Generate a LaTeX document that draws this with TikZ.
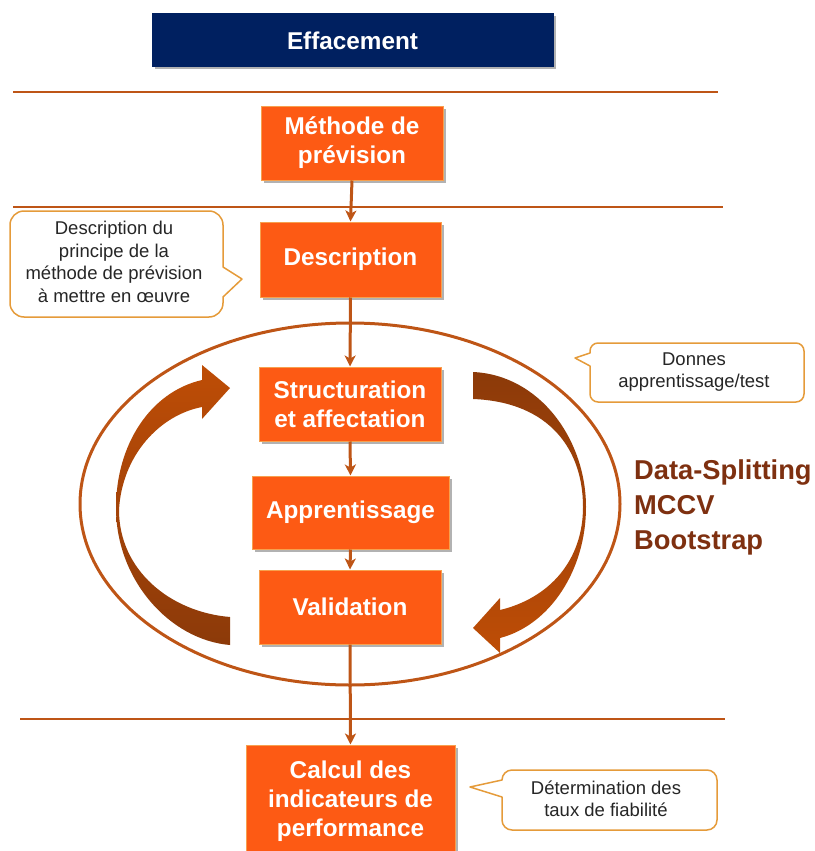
\documentclass[tikz,border=0pt]{standalone}
\usepackage{fontspec}
\setmainfont{Liberation Sans}
\usetikzlibrary{arrows.meta,shadows}
\definecolor{navy}{HTML}{002060}
\definecolor{boxfill}{HTML}{FD5A14}
\definecolor{boxedge}{HTML}{F7A04E}
\definecolor{brownline}{HTML}{BE5516}
\definecolor{calloutedge}{HTML}{E59B3A}
\definecolor{darkbrowntext}{HTML}{7E3010}
\definecolor{arrowlight}{HTML}{BE4D06}
\definecolor{arrowdark}{HTML}{8C3A09}
\newcommand\bxfont{\fontsize{24.3}{29}\selectfont\bfseries}
\newcommand\clfont{\fontsize{18.5}{22.5}\selectfont}
\newcommand\dsfont{\fontsize{27.3}{35}\selectfont\bfseries}
\begin{document}
\begin{tikzpicture}[x=1pt,y=-1pt,
  box/.style={draw=boxedge, line width=1pt, fill=boxfill, text=white, font=\bxfont,
    align=center, inner sep=0pt,
    drop shadow={shadow xshift=2.5pt, shadow yshift=-2.5pt, fill=black, opacity=0.3}},
  sepline/.style={draw=brownline, line width=2pt},
  flow/.style={draw=brownline, line width=3pt, -{Stealth[length=11pt,width=11pt,inset=3pt]}},
  calloutline/.style={draw=calloutedge, line width=1.5pt, fill=white, line join=round},
  ctext/.style={font=\clfont, align=center, inner sep=0pt, text=black!85},
  ring/.style={draw=brownline, line width=3pt}]
\clip (0,0) rectangle (814,851);
\useasboundingbox (0,0) rectangle (814,851);

% separators
\draw[sepline] (13,92) -- (718,92);
\draw[sepline] (13,207) -- (723,207);
\draw[sepline] (20,719) -- (725,719);

% ellipse
\draw[ring] (350,504) ellipse [x radius=270pt, y radius=181pt];

% big curved arrows
\shade[top color=arrowlight, bottom color=arrowdark]
  (230,617) .. controls (170,612) and (119,570) .. (119,510)
  .. controls (122,455) and (160,415) .. (202,407)
  -- (202,419) -- (230,388) -- (202,365) -- (202,380)
  .. controls (150,392) and (116,445) .. (116,508)
  .. controls (116,580) and (170,640) .. (230,645)
  -- cycle;
\shade[top color=arrowdark, bottom color=arrowlight]
  (473,372) .. controls (540,375) and (586,440) .. (586,507)
  .. controls (586,570) and (550,625) .. (500,638)
  -- (500,653) -- (473,628) -- (500,598) -- (500,610)
  .. controls (550,598) and (583,560) .. (583,507)
  .. controls (583,450) and (550,402) .. (473,399)
  -- cycle;

% boxes
\node[box, fill=navy, draw=navy, minimum width=401pt, minimum height=53pt] (eff) at (352.5,40.5) {Effacement};
\node[box, minimum width=182pt, minimum height=74pt] (meth) at (352,143) {Méthode de\\prévision};
\node[box, minimum width=181pt, minimum height=75pt] (desc) at (350.5,259.5) {Description};
\node[box, minimum width=182pt, minimum height=74pt] (struc) at (350,404) {Structuration\\et affectation};
\node[box, minimum width=197pt, minimum height=73pt] (appr) at (350.5,512.5) {Apprentissage};
\node[box, minimum width=182pt, minimum height=74pt] (valid) at (350,607) {Validation};
\node[box, minimum width=209pt, minimum height=112pt] (calc) at (350.5,801) {Calcul des\\indicateurs de\\performance};

% flow connectors
\draw[flow] (meth.south) -- (desc.north);
\draw[flow] (desc.south) -- (struc.north);
\draw[flow] (struc.south) -- (appr.north);
\draw[flow] (appr.south) -- (valid.north);
\draw[flow] (valid.south) -- (calc.north);

% callout 1
\draw[calloutline, rounded corners=14pt]
  (120,211) -- (223,211) -- (223,240) [sharp corners] -- (223,267) -- (242,279) -- (223,297) -- (223,300)
  [rounded corners=14pt] -- (223,317) -- (10,317) -- (10,211) -- (120,211);
\node[ctext] (c1) at (114,262) {Description du\\principe de la\\méthode de prévision\\à mettre en œuvre};

% callout 2
\draw[calloutline, rounded corners=8pt]
  (700,343) -- (804,343) -- (804,402) -- (590,402) -- (590,380) [sharp corners] -- (590,366) -- (575,358) -- (590,353) -- (590,352)
  [rounded corners=8pt] -- (590,343) -- (700,343);
\node[ctext] (c2) at (694,372) {Donnes\\apprentissage/test};

% callout 3
\draw[calloutline, rounded corners=10pt]
  (610,770) -- (717,770) -- (717,830) -- (502,830) -- (502,810) [sharp corners] -- (502,797) -- (470,787) -- (502,780) -- (502,779)
  [rounded corners=10pt] -- (502,770) -- (610,770);
\node[ctext] (c3) at (606,799) {Détermination des\\taux de fiabilité};

% methods text
\node[font=\dsfont, text=darkbrowntext, align=left, anchor=north west, inner sep=0pt] (ds) at (634,460) {Data-Splitting\\MCCV\\Bootstrap};
\end{tikzpicture}
\end{document}
